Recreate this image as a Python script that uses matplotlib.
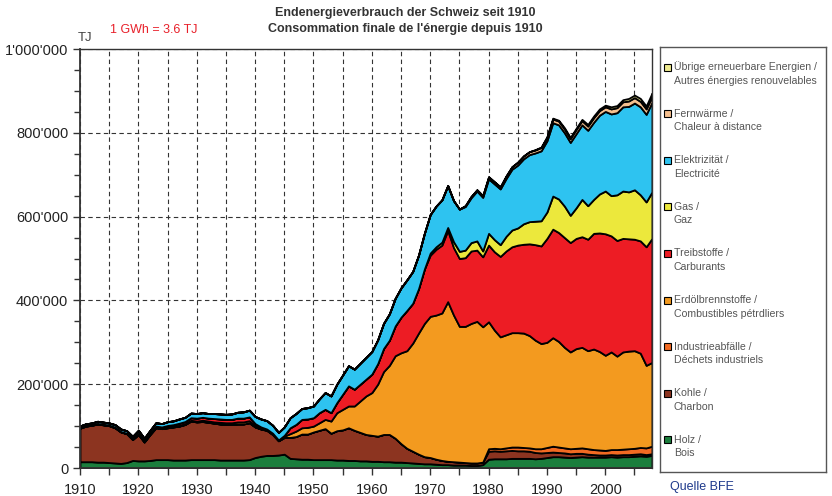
import numpy as np
import matplotlib.pyplot as plt
from matplotlib.patches import Rectangle
from matplotlib.ticker import MultipleLocator, FuncFormatter

plt.rcParams['font.family'] = ['Liberation Sans', 'DejaVu Sans']

# Jahre 1910-2008
years = list(range(1910, 2009))

# Werte in 1000 TJ, von unten nach oben gestapelt
holz = [
    15, 15, 15, 14, 14, 13, 12, 11, 13, 18,
    17, 17, 18, 20, 20, 20, 19, 19, 19, 20,
    20, 20, 20, 20, 19, 19, 19, 19, 19, 20,
    25, 28, 30, 30, 31, 33, 23, 22, 21, 21,
    20, 20, 20, 20, 19, 19, 18, 18, 17, 17,
    16, 16, 15, 15, 14, 14, 13, 12, 11, 10,
    10, 9, 8, 8, 7, 7, 7, 6, 6, 8,
    21, 22, 22, 22, 23, 23, 23, 23, 22, 23,
    25, 27, 27, 26, 25, 26, 27, 26, 26, 26,
    26, 27, 26, 27, 27, 28, 29, 28, 30,
]
kohle = [
    80, 85, 87, 91, 89, 88, 84, 75, 69, 50,
    63, 45, 62, 76, 74, 76, 79, 81, 85, 92,
    90, 91, 89, 87, 86, 85, 85, 86, 86, 88,
    73, 65, 60, 50, 34, 40, 50, 53, 60, 60,
    66, 70, 74, 63, 70, 72, 78, 72, 68, 63,
    62, 60, 65, 65, 57, 44, 34, 28, 22, 17,
    15, 12, 10, 8, 8, 7, 6, 6, 6, 6,
    19, 19, 18, 19, 19, 18, 18, 17, 15, 13,
    12, 11, 10, 10, 9, 9, 8, 7, 6, 5,
    5, 5, 5, 5, 5, 5, 5, 4, 4,
]
industrie = [
    0, 0, 0, 0, 0, 0, 0, 0, 0, 0,
    0, 0, 0, 0, 0, 0, 0, 0, 0, 0,
    0, 0, 0, 0, 0, 0, 0, 0, 0, 0,
    0, 0, 0, 0, 0, 0, 0, 0, 0, 0,
    0, 0, 0, 0, 0, 0, 0, 0, 0, 0,
    0, 0, 0, 0, 0, 0, 0, 0, 0, 0,
    0, 0, 0, 0, 0, 0, 0, 0, 0, 0,
    6, 6, 6, 7, 8, 9, 8, 8, 9, 10,
    12, 14, 13, 12, 12, 12, 13, 13, 12, 12,
    11, 12, 13, 13, 14, 14, 15, 16, 18,
]
erdoel = [
    0.5, 0.5, 0.5, 0.5, 0.5, 0.5, 0.5, 0.5, 0.5, 0.5,
    1, 1, 1, 1, 1, 1.5, 1.5, 2, 2, 2,
    2, 3, 3, 3, 4, 4, 4, 5, 5, 5,
    3, 2, 1, 1, 1, 3, 9, 13, 15, 16,
    14, 18, 22, 29, 43, 49, 52, 58, 75, 92,
    102, 124, 150, 165, 197, 217, 233, 258, 289, 318,
    337, 344, 352, 381, 350, 324, 325, 333, 338, 323,
    303, 282, 267, 270, 273, 273, 273, 268, 259, 251,
    251, 259, 252, 240, 231, 238, 240, 234, 240, 235,
    227, 233, 223, 232, 233, 233, 225, 197, 200,
]
treib = [
    1, 1, 1, 1, 1, 1, 1, 0.5, 0.5, 1,
    2, 2, 2, 3, 3, 4, 4, 5, 5, 6,
    7, 7, 7, 8, 8, 8, 8, 9, 9, 9,
    5, 3, 2, 2, 1, 2, 14, 16, 20, 20,
    20, 24, 24, 20, 24, 36, 48, 40, 40, 40,
    44, 49, 55, 60, 71, 85, 96, 95, 106, 130,
    146, 157, 162, 170, 161, 162, 164, 173, 170, 167,
    183, 187, 192, 200, 205, 209, 212, 219, 228, 233,
    248, 259, 260, 262, 261, 263, 264, 266, 276, 283,
    290, 277, 276, 271, 268, 266, 268, 283, 296,
]
gas = [
    0, 0, 0, 0, 0, 0, 0, 0, 0, 0,
    0, 0, 0, 0, 0, 0, 0, 0, 0, 0,
    0, 0, 0, 0, 0, 0, 0, 0, 0, 0,
    0, 0, 0, 0, 0, 0, 0, 0, 0, 0,
    0, 0, 0, 0, 0, 0, 0, 0, 0, 0,
    0, 0, 0, 0, 0, 0, 0, 0, 0, 0,
    5, 6, 7, 7, 14, 17, 18, 20, 22, 14,
    28, 29, 28, 35, 40, 41, 49, 53, 56, 60,
    63, 79, 80, 75, 65, 73, 89, 80, 81, 93,
    102, 96, 109, 113, 112, 118, 110, 107, 111,
]
strom = [
    4, 4, 4, 5, 5, 5, 6, 6, 6, 6,
    7, 6, 7, 8, 8, 9, 9, 10, 10, 11,
    11, 11, 11, 12, 12, 12, 13, 14, 15, 16,
    17, 19, 20, 19, 18, 20, 24, 26, 26, 27,
    28, 33, 40, 40, 44, 46, 48, 48, 50, 52,
    54, 57, 60, 63, 66, 70, 73, 76, 80, 85,
    92, 97, 101, 100, 98, 101, 104, 107, 119, 128,
    130, 133, 133, 138, 145, 150, 155, 160, 163, 167,
    170, 175, 177, 175, 174, 177, 178, 180, 184, 188,
    190, 195, 196, 201, 204, 207, 210, 209, 214,
]
fernwaerme = [
    0, 0, 0, 0, 0, 0, 0, 0, 0, 0,
    0, 0, 0, 0, 0, 0, 0, 0, 0, 0,
    0, 0, 0, 0, 0, 0, 0, 0, 0, 0,
    0, 0, 0, 0, 0, 0, 0, 0, 0, 0,
    0, 0, 0, 0, 0, 0, 0, 0, 0, 0,
    0, 0, 0, 0, 0, 0, 0, 0, 0, 0,
    0, 0, 0, 0, 0, 0, 2, 3, 3, 4,
    5, 5, 5, 6, 6, 7, 7, 7, 7, 8,
    8, 9, 9, 9, 9, 10, 10, 10, 11, 11,
    11, 12, 12, 12, 13, 13, 13, 13, 14,
]
uebrige = [
    0, 0, 0, 0, 0, 0, 0, 0, 0, 0,
    0, 0, 0, 0, 0, 0, 0, 0, 0, 0,
    0, 0, 0, 0, 0, 0, 0, 0, 0, 0,
    0, 0, 0, 0, 0, 0, 0, 0, 0, 0,
    0, 0, 0, 0, 0, 0, 0, 0, 0, 0,
    0, 0, 0, 0, 0, 0, 0, 0, 0, 0,
    0, 0, 0, 0, 0, 0, 0, 0, 0, 0,
    0, 0, 0, 0, 0, 0, 0, 0, 1, 1,
    2, 2, 2, 3, 3, 3, 3, 4, 4, 4,
    4, 5, 5, 5, 6, 6, 7, 7, 8,
]

series = [holz, kohle, industrie, erdoel, treib, gas, strom, fernwaerme, uebrige]
colors = ['#1b7e3d', '#8c3420', '#f26a22', '#f39a1f', '#ed1c24',
          '#ece83c', '#2ec3f0', '#f5bf8e', '#efeb90']
legend_labels = [
    ('Holz /', 'Bois'),
    ('Kohle /', 'Charbon'),
    ('Industrieabfälle /', 'Déchets industriels'),
    ('Erdölbrennstoffe /', 'Combustibles pétrdliers'),
    ('Treibstoffe /', 'Carburants'),
    ('Gas /', 'Gaz'),
    ('Elektrizität /', 'Electricité'),
    ('Fernwärme /', 'Chaleur à distance'),
    ('Übrige erneuerbare Energien /', 'Autres énergies renouvelables'),
]

W, H = 832, 496
fig = plt.figure(figsize=(W / 100, H / 100), dpi=100)
ax = fig.add_axes([80 / W, 1 - 468 / H, (652 - 80) / W, (468 - 49) / H])

values = [np.array(s, dtype=float) * 1000 for s in series]
ax.stackplot(years, *values, colors=colors, edgecolor='black', linewidth=1.3, zorder=2)

ax.set_xlim(1910, 2008)
ax.set_ylim(0, 1_000_000)
ax.xaxis.set_major_locator(MultipleLocator(10))
ax.xaxis.set_minor_locator(MultipleLocator(5))
ax.yaxis.set_major_locator(MultipleLocator(200_000))
ax.yaxis.set_minor_locator(MultipleLocator(50_000))
ax.yaxis.set_major_formatter(FuncFormatter(lambda v, p: f"{int(v):,}".replace(",", "'")))

ax.set_axisbelow(True)
ax.xaxis.grid(True, which='both', linestyle=(0, (4, 3)), color='#333333', linewidth=0.8)
ax.yaxis.grid(True, which='major', linestyle=(0, (4, 3)), color='#333333', linewidth=0.8)

ax.tick_params(which='both', direction='out', length=5, width=1, color='#333333',
               labelsize=10.5, labelcolor='#222222')
ax.tick_params(axis='y', which='minor', length=4)
ax.tick_params(axis='x', pad=6)
for sp in ax.spines.values():
    sp.set_color('#333333')
    sp.set_linewidth(1.0)
ax.spines['left'].set_linewidth(1.3)
ax.spines['bottom'].set_linewidth(1.3)

# Legende als eigener Kasten
lax = fig.add_axes([660 / W, 1 - 472 / H, 166 / W, 425 / H])
lax.set_xlim(0, 166)
lax.set_ylim(425, 0)
lax.set_xticks([])
lax.set_yticks([])
for sp in lax.spines.values():
    sp.set_color('#555555')
    sp.set_linewidth(1.0)
for i, (col, (l1, l2)) in enumerate(zip(colors[::-1], legend_labels[::-1])):
    y = 20 + i * 46.6
    lax.add_patch(Rectangle((4, y - 3.5), 7, 7, facecolor=col, edgecolor='black', linewidth=0.8))
    lax.text(14, y, l1, va='center', ha='left', fontsize=7.6, color='#555555')
    lax.text(14, y + 13.5, l2, va='center', ha='left', fontsize=7.6, color='#555555')

fig.text(405 / W, 1 - 13 / H, 'Endenergieverbrauch der Schweiz seit 1910', ha='center', va='center',
         fontsize=9, fontweight='bold', color='#333333')
fig.text(405 / W, 1 - 29 / H, "Consommation finale de l'énergie depuis 1910", ha='center', va='center',
         fontsize=9, fontweight='bold', color='#333333')
fig.text(110 / W, 1 - 30 / H, '1 GWh = 3.6 TJ', ha='left', va='center', fontsize=9, color='#e8202a')
fig.text(78 / W, 1 - 38 / H, 'TJ', ha='left', va='center', fontsize=9.5, color='#444444')
fig.text(670 / W, 1 - 487 / H, 'Quelle BFE', ha='left', va='center', fontsize=9, color='#1f3a8c')

fig.savefig('out.png', dpi=100)
